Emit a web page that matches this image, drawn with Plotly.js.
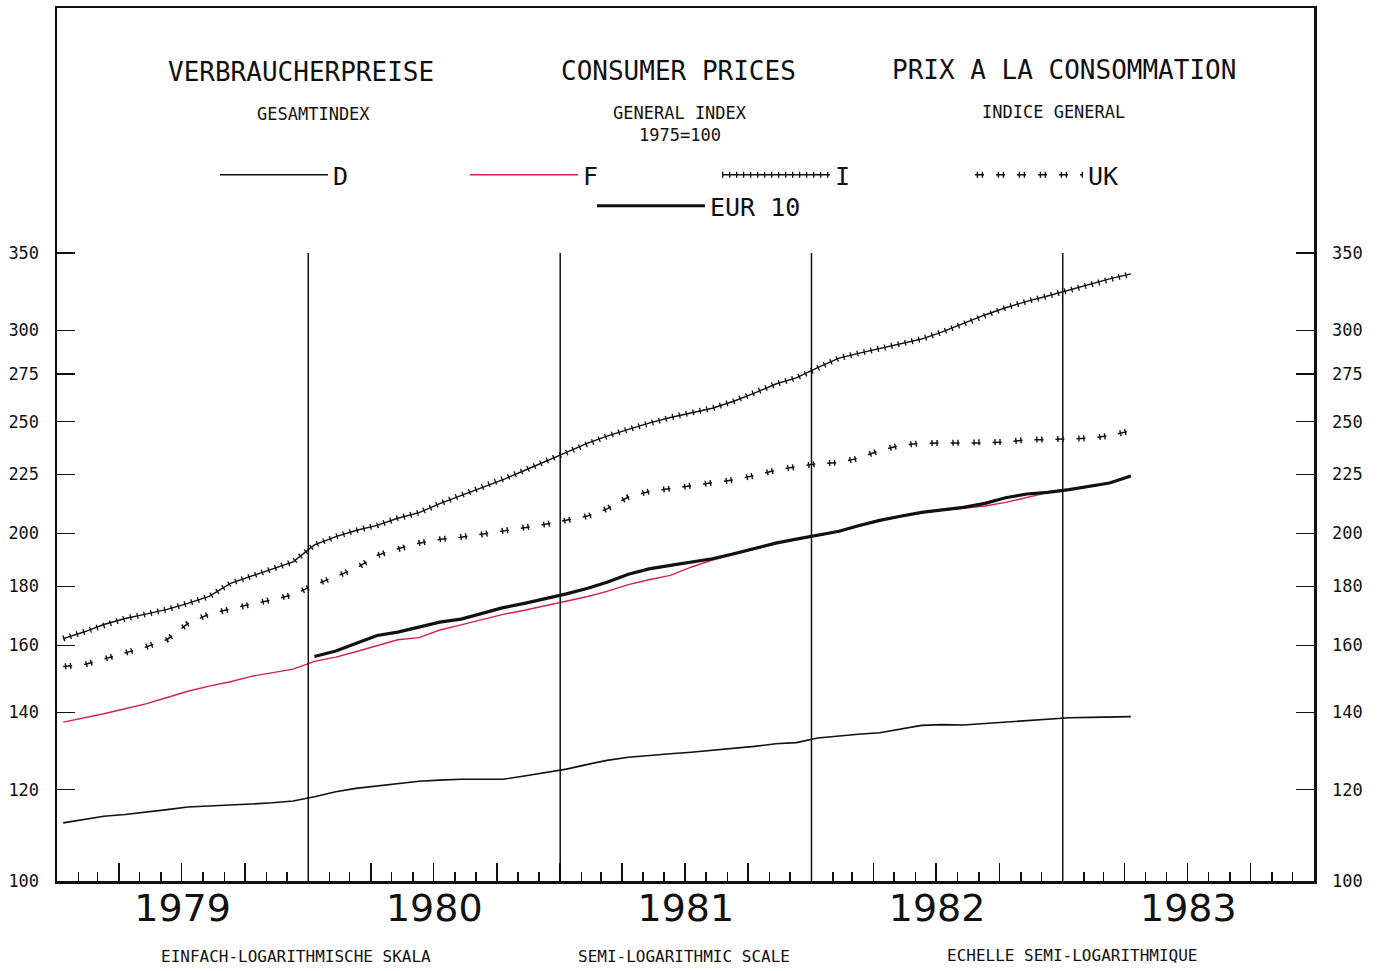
<!DOCTYPE html>
<html>
<head>
<meta charset="utf-8">
<script src="https://cdn.plot.ly/plotly-3.0.1.min.js"></script>
<style>
  html, body { margin: 0; padding: 0; background: #fff; }
  #chart { width: 1381px; height: 971px; }
</style>
</head>
<body>
<div id="chart"></div>
<script>
// ---- data (monthly, Jan 1979 onwards; 1975 = 100) ----
const startYear = 1979;
const nMonths = 52;
const months = [];
for (let k = 0; k < nMonths; k++) {
  const yr = startYear + Math.floor(k / 12);
  const m = (k % 12) + 1;
  months.push(yr + '-' + String(m).padStart(2, '0') + '-10');
}

const seriesD = [112.3,113.1,113.8,114.2,114.7,115.3,115.9,116.1,116.3,116.6,116.9,117.3,
                 118.3,119.5,120.3,120.9,121.4,122.0,122.3,122.5,122.5,122.5,123.3,124.1,
                 125.0,126.2,127.2,128.0,128.5,128.9,129.3,129.8,130.3,130.8,131.5,131.8,
                 133.0,133.6,134.0,134.4,135.3,136.4,136.6,136.5,136.9,137.3,137.7,138.1,
                 138.5,138.6,138.7,138.8];

const seriesF = [137.3,138.4,139.6,141.0,142.4,144.2,146.0,147.5,148.8,150.4,151.4,152.6,
                 155.0,156.3,158.0,159.9,161.8,162.5,165.0,166.7,168.5,170.2,171.6,173.1,
                 174.6,176.4,178.2,180.6,182.4,184.0,187.0,189.7,191.8,193.9,196.0,197.6,
                 199.1,200.7,202.9,205.1,206.8,208.4,209.5,210.5,211.3,212.8,215.0,217.0];

const seriesI = [162.2,164.4,166.8,168.8,170.3,171.9,174.0,176.4,181.1,183.6,186.2,189.0,
                 195.5,198.8,201.2,203.3,206.2,208.5,212.3,215.8,219.3,222.7,226.8,231.0,
                 235.1,239.5,242.9,246.2,249.3,252.1,254.5,256.8,260.4,264.6,269.5,272.8,
                 278.5,283.8,286.5,289.2,291.9,294.8,299.0,304.2,309.3,313.8,317.8,321.2,
                 325.0,328.8,332.4,335.7];

const seriesUK = [153.4,154.0,155.7,157.5,159.5,161.9,167.1,170.3,172.0,173.8,175.2,177.0,
                  180.5,183.6,186.5,191.5,194.0,196.2,197.7,198.5,199.7,201.1,202.3,203.7,
                  205.3,207.1,210.1,215.1,217.5,218.7,219.9,221.1,222.6,224.5,226.9,228.5,
                  229.9,230.4,232.4,236.0,238.5,239.5,239.5,239.5,239.6,240.1,241.1,241.2,
                  241.5,241.9,243.1,245.5];

// EUR 10 starts January 1980
const eurStartIndex = 12;
const seriesEUR = [156.5,158.2,160.6,163.2,164.3,166.1,167.6,168.6,170.6,172.5,174.0,175.6,
                   177.3,179.3,181.5,184.4,186.4,187.7,188.9,190.2,192.1,194.2,196.2,197.8,
                   199.3,200.9,203.1,205.3,207.0,208.6,209.7,210.7,212.4,214.8,216.4,217.1,
                   218.3,219.8,221.2,224.3];

const yTickVals = [100,120,140,160,180,200,225,250,275,300,350];
const yTickText = ['100','120','140','160','180','200','225','250','275','300','350'];
const yearBoundaries = ['1980-01-01','1981-01-01','1982-01-01','1983-01-01'];
const boundarySpan = [100, 350];
const xRange = ['1979-01-01','1984-01-01'];

// ---- build ----
const MONO = '"DejaVu Sans Mono", monospace';
const INK = '#111111';
const RED = '#d42050';

const vx = [], vy = [];
yearBoundaries.forEach(d => { vx.push(d, d, null); vy.push(boundarySpan[0], boundarySpan[1], null); });

const traces = [
  { x: vx, y: vy, xaxis: 'x2', yaxis: 'y2', mode: 'lines', line: {color: INK, width: 1.5},
    showlegend: false, hoverinfo: 'skip' },
  { x: months.slice(0, seriesD.length), y: seriesD, name: 'D', mode: 'lines',
    line: {color: INK, width: 1.6}, legend: 'legend' },
  { x: months.slice(0, seriesF.length), y: seriesF, name: 'F', mode: 'lines',
    line: {color: RED, width: 1.4}, legend: 'legend2' },
  { x: months, y: seriesI, name: 'I', mode: 'lines',
    line: {color: INK, width: 1.4}, legend: 'legend3' },
  { x: months, y: seriesI, name: ' ', mode: 'lines',
    line: {color: INK, width: 6, dash: '1.3px,5.7px'}, legend: 'legend6' },
  { x: months, y: seriesUK, name: 'UK', mode: 'lines',
    line: {color: INK, width: 1.5, dash: '9px,12px'}, legend: 'legend4' },
  { x: months, y: seriesUK, name: ' ', mode: 'lines',
    line: {color: INK, width: 6, dash: '0px,1.7px,1.4px,3.6px,1.4px,12.9px'}, legend: 'legend7' },
  { x: months.slice(eurStartIndex, eurStartIndex + seriesEUR.length), y: seriesEUR, name: 'EUR 10', mode: 'lines',
    line: {color: INK, width: 3.2}, legend: 'legend5' }
];

const L = 57, R = 1314, T = 8, B = 881;
const px = v => (v - L) / (R - L);
const py = v => (B - v) / (B - T);

function leg(xpix, ypix) {
  return {
    x: px(xpix), y: py(ypix), xanchor: 'left', yanchor: 'middle',
    xref: 'paper', yref: 'paper',
    bgcolor: 'rgba(0,0,0,0)', borderwidth: 0,
    font: {family: MONO, size: 25, color: INK},
    itemwidth: 108, orientation: 'h', itemclick: false, itemdoubleclick: false
  };
}

const logRange = [2, 2 + Math.log10(3.5) * (B - T) / (B - 253)];

const ann = (text, xp, yp, size) => ({
  text, x: px(xp), y: py(yp), xref: 'paper', yref: 'paper',
  xanchor: 'center', yanchor: 'middle', showarrow: false,
  font: {family: MONO, size, color: INK}
});

const layout = {
  width: 1381, height: 971,
  margin: {l: L, r: 1381 - R, t: T, b: 971 - B},
  paper_bgcolor: '#ffffff', plot_bgcolor: '#ffffff',
  showlegend: true,
  xaxis: {
    type: 'date', range: xRange, showgrid: false, zeroline: false,
    showline: true, linecolor: INK, linewidth: 2.5, mirror: true,
    ticks: 'inside', tick0: '1979-01-01', dtick: 'M3', ticklen: 18, tickwidth: 1.5, tickcolor: INK,
    showticklabels: false,
    minor: {dtick: 'M1', tick0: '1979-01-01', ticks: 'inside', ticklen: 9, tickwidth: 1.5, tickcolor: INK, showgrid: false}
  },
  xaxis2: {
    type: 'date', overlaying: 'x', matches: 'x', anchor: 'y', side: 'bottom',
    showgrid: false, zeroline: false, showline: false, ticks: '',
    tick0: '1979-01-01', dtick: 'M12', tickformat: '%Y', ticklabelmode: 'period',
    tickfont: {family: '"DejaVu Sans", sans-serif', size: 38, color: INK},
    ticklabelstandoff: 1
  },
  yaxis: {
    type: 'log', range: logRange, showgrid: false, zeroline: false,
    showline: true, linecolor: INK, linewidth: 2.5, mirror: 'ticks',
    ticks: 'inside', ticklen: 18, tickwidth: 1.5, tickcolor: INK,
    tickmode: 'array', tickvals: yTickVals, ticktext: yTickText,
    tickfont: {family: MONO, size: 17, color: INK},
    ticklabelstandoff: 12
  },
  yaxis2: {
    type: 'log', range: logRange, overlaying: 'y', matches: 'y', side: 'right', anchor: 'x',
    showgrid: false, zeroline: false, showline: false, ticks: '',
    tickmode: 'array', tickvals: yTickVals, ticktext: yTickText,
    tickfont: {family: MONO, size: 17, color: INK},
    ticklabelstandoff: 17
  },
  legend: leg(215, 175),
  legend2: leg(465, 175),
  legend3: leg(717, 175),
  legend6: leg(717, 175),
  legend4: leg(970, 175),
  legend7: leg(970, 175),
  legend5: leg(592, 206),
  annotations: [
    ann('VERBRAUCHERPREISE', 301, 72, 26),
    ann('CONSUMER PRICES', 678, 71, 26),
    ann('PRIX A LA CONSOMMATION', 1064, 70, 26),
    ann('GESAMTINDEX', 313, 114, 17),
    ann('GENERAL INDEX', 680, 113, 17),
    ann('1975=100', 680, 135, 17),
    ann('INDICE GENERAL', 1053, 112, 17),
    ann('EINFACH-LOGARITHMISCHE SKALA', 296, 957, 16),
    ann('SEMI-LOGARITHMIC SCALE', 684, 957, 16),
    ann('ECHELLE SEMI-LOGARITHMIQUE', 1072, 956, 16)
  ]
};

Plotly.newPlot('chart', traces, layout, {staticPlot: true, displayModeBar: false});
</script>
</body>
</html>
